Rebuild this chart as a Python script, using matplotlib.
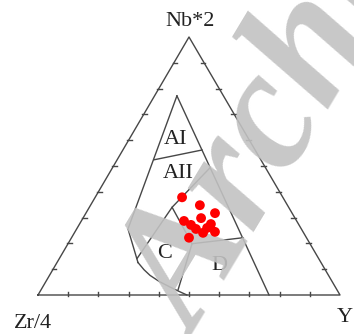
import numpy as np
import matplotlib
matplotlib.use("Agg")
import matplotlib.pyplot as plt

# Meschede (1986) Nb*2 - Zr/4 - Y diagram, values as (Zr/4, Nb*2, Y) percentages
field_right = [(15.4, 77.2, 7.4), (23.5, 0.0, 76.5)]
field_left = [(15.4, 77.2, 7.4), (57.4, 25.6, 17.0), (60.6, 12.6, 26.8)]
field_curve = [(60.6, 12.6, 26.8), (60.0, 9.8, 30.2), (59.1, 7.6, 33.3),
               (57.2, 5.2, 37.6), (54.8, 3.1, 42.2), (52.6, 1.4, 46.0), (50.7, 0.0, 49.3)]
line_ai_aii = [(35.4, 52.4, 12.2), (17.6, 56.2, 26.2)]
line_aii_c = [(18.4, 49.3, 32.3), (38.6, 34.0, 27.4), (60.1, 14.1, 25.7)]
line_b_c = [(38.6, 34.0, 27.4), (39.1, 19.9, 41.1)]
line_b_d = [(39.1, 19.9, 41.1), (21.0, 22.2, 56.8)]
line_c_d = [(39.1, 19.9, 41.1), (52.7, 1.9, 45.4)]

field_names = ["AI", "AII", "C", "D"]
field_label_pos = [(24.1, 60.4, 15.5), (30.1, 47.0, 22.9), (49.9, 16.1, 34.0), (34.3, 11.5, 54.2)]

sample_zr = [33.4, 29.0, 25.5, 37.3, 35.8, 31.1, 29.0, 33.3, 29.2, 38.9, 34.9, 31.0]
sample_nb = [37.9, 34.8, 31.7, 28.7, 27.2, 29.8, 27.5, 24.1, 24.5, 22.2, 25.6, 26.0]
sample_y = [28.8, 36.2, 42.7, 34.0, 37.1, 39.1, 43.5, 42.6, 46.4, 38.9, 39.5, 43.0]

H = np.sqrt(3) / 2


def tern(zr, nb, y):
    zr, nb, y = np.asarray(zr, float), np.asarray(nb, float), np.asarray(y, float)
    s = zr + nb + y
    nb, y = nb / s, y / s
    return y + nb / 2, nb * H


fig = plt.figure(figsize=(3.54, 3.34), dpi=100)
ax = fig.add_axes([38 / 354, 39 / 334, 302 / 354, 258 / 334])
ax.set_xlim(0, 1)
ax.set_ylim(0, H)
ax.axis("off")

line_kw = dict(color="#474747", lw=1.0, clip_on=False, zorder=2)

# outer triangle and ticks
ox, oy = tern([100, 0, 0, 100], [0, 0, 100, 0], [0, 100, 0, 0])
ax.plot(ox, oy, **line_kw)
t = 0.011
for k in range(1, 10):
    f = k / 10
    bx, by = tern(1 - f, 0, f)
    ax.plot([bx, bx], [by - t * 0.3, by + t], **line_kw)
    lx, ly = tern(1 - f, f, 0)
    ax.plot([lx - t * 0.4, lx + t], [ly, ly], **line_kw)
    rx, ry = tern(0, f, 1 - f)
    ax.plot([rx - t, rx + t * 0.4], [ry, ry], **line_kw)

for seg in [field_right, field_left, field_curve, line_ai_aii, line_aii_c,
            line_b_c, line_b_d, line_c_d]:
    zr, nb, y = zip(*seg)
    sx, sy = tern(zr, nb, y)
    ax.plot(sx, sy, **line_kw)

serif = "Liberation Serif"
for name, (zr, nb, y) in zip(field_names, field_label_pos):
    px, py = tern(zr, nb, y)
    ax.text(px, py, name, family=serif, fontsize=16, color="#222222",
            ha="center", va="center", zorder=3)

# vertex labels
fig.text(190 / 354, 1 - 22 / 334, "Nb*2", family=serif, fontsize=16,
         color="#222222", ha="center", va="center")
fig.text(33 / 354, 1 - 324 / 334, "Zr/4", family=serif, fontsize=16,
         color="#222222", ha="center", va="center")
fig.text(345 / 354, 1 - 317 / 334, "Y", family=serif, fontsize=16,
         color="#222222", ha="center", va="center")

# watermark
ax.text(0.53, -0.15, "Archive", family=serif, style="italic", weight="bold",
        fontsize=124, color="#c2c2c2", alpha=0.9, rotation=59,
        rotation_mode="anchor", ha="left", va="baseline", zorder=4, clip_on=False)

px, py = tern(sample_zr, sample_nb, sample_y)
ax.scatter(px, py, s=50, color="#ff0000", edgecolors="none", zorder=5, clip_on=False)

fig.savefig("out.png", dpi=100)
